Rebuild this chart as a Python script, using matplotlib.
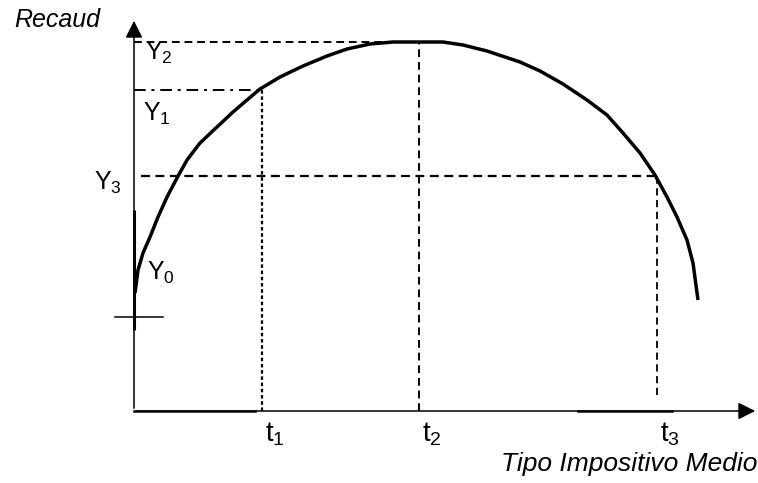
import matplotlib
matplotlib.use("Agg")
import matplotlib.pyplot as plt

# Laffer curve sketch: revenue vs. average tax rate (units ~ pixels of the original drawing)
tax_rate = [1, 4, 9, 16, 24, 33, 43, 53, 66, 83, 99, 113, 126, 146, 169, 193, 213, 236,
            259, 309, 329, 353, 386, 406, 429, 453, 473, 489, 506, 521, 533, 543, 553, 559, 564]
revenue = [118, 141, 158, 174, 194, 214, 233, 251, 268, 284, 299, 311, 322, 334, 345, 355,
           362, 367, 369, 369, 366, 360, 349, 340, 327, 311, 296, 278, 258, 236, 214, 194,
           171, 148, 111]

t_vals = [128, 285, 523]          # t1, t2, t3
y_vals = {"Y0": 118, "Y1": 321, "Y2": 369, "Y3": 235}
y_tick = 94                       # small tick across the revenue axis
x_end, y_end = 624, 393           # arrow tips of the axes

plt.rcParams["mathtext.fontset"] = "custom"
plt.rcParams["mathtext.rm"] = "Liberation Sans"
plt.rcParams["mathtext.it"] = "Liberation Sans:italic"

fig = plt.figure(figsize=(7.58, 4.83), dpi=100)
ax = fig.add_axes([0, 0, 1, 1])
ax.set_xlim(-134, 624)
ax.set_ylim(-72, 411)
ax.axis("off")

# axes with arrow heads
ax.annotate("", xy=(x_end, 0), xytext=(0, 0),
            arrowprops=dict(arrowstyle="-|>", color="black", lw=1.1, mutation_scale=26))
ax.annotate("", xy=(0, y_end), xytext=(0, 0),
            arrowprops=dict(arrowstyle="-|>", color="black", lw=1.1, mutation_scale=26))
# thicker stretches of the hand drawing
ax.plot([0, 0], [81, 201], color="black", lw=2.2, solid_capstyle="butt")
ax.plot([0, 121], [0, 0], color="black", lw=1.8)
ax.plot([444, 538], [0, 0], color="black", lw=1.8)
ax.plot([-19, 29], [y_tick, y_tick], color="black", lw=1.1)

# guide lines
t1, t2, t3 = t_vals
ax.plot([0, t1], [y_vals["Y1"], y_vals["Y1"]], color="black", lw=1.4, ls=(0, (6, 3, 1.5, 3)))
ax.plot([t1, t1], [0, y_vals["Y1"]], color="black", lw=1.6, ls=(0, (1.6, 1.2)))
ax.plot([0, t2], [y_vals["Y2"], y_vals["Y2"]], color="black", lw=1.4, ls=(0, (4, 2.5)))
ax.plot([t2, t2], [0, y_vals["Y2"]], color="black", lw=1.4, ls=(0, (4, 2.5)))
ax.plot([7, t3], [y_vals["Y3"], y_vals["Y3"]], color="black", lw=1.6, ls=(0, (4, 2.5)))
ax.plot([t3, t3], [16, y_vals["Y3"]], color="black", lw=1.3, ls=(0, (4, 2.5)))

# the curve
ax.plot(tax_rate, revenue, color="black", lw=2.5, solid_capstyle="butt", solid_joinstyle="round")

# labels
ax.text(-77, 391, "Recaud", fontsize=18, style="italic", family="Liberation Sans",
        ha="center", va="center")
ax.text(623, -53, "Tipo Impositivo Medio", fontsize=19, style="italic",
        family="Liberation Sans", ha="right", va="center")
for i, t in enumerate(t_vals):
    ax.text(t + 13, -23, r"$\mathrm{t}_{%d}$" % (i + 1), fontsize=20, ha="center", va="center")
label_pos = {"Y2": (25, 358), "Y1": (23, 297), "Y3": (-26, 228), "Y0": (27, 138)}
for name, (lx, ly) in label_pos.items():
    ax.text(lx, ly, r"$\mathrm{Y}_{%s}$" % name[1], fontsize=18, ha="center", va="center")

fig.savefig("out.png", dpi=100)
